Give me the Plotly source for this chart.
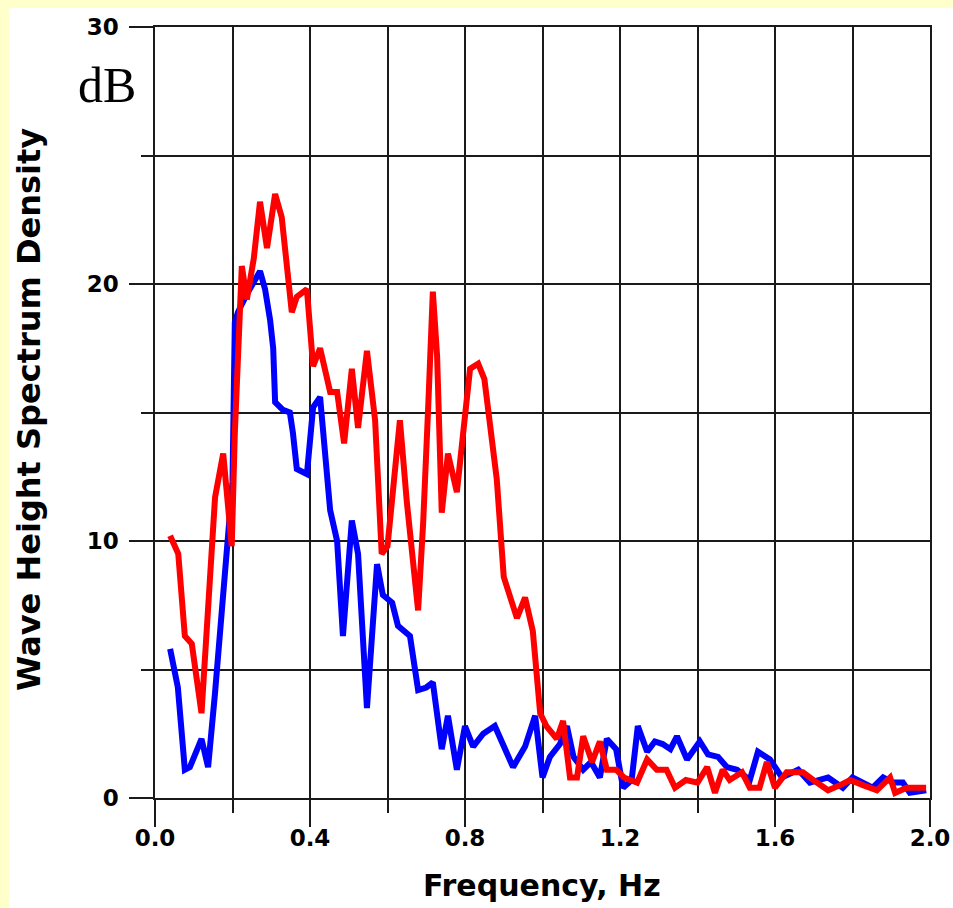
import plotly.graph_objects as go

# Wave height spectrum density (dB) versus frequency, two records
red_freq = [0.039, 0.060, 0.077, 0.095, 0.120, 0.142, 0.155, 0.176, 0.198, 0.206,
            0.215, 0.224, 0.237, 0.255, 0.271, 0.289, 0.310, 0.327, 0.353, 0.366,
            0.392, 0.408, 0.426, 0.452, 0.470, 0.488, 0.508, 0.524, 0.547, 0.568,
            0.585, 0.600, 0.632, 0.650, 0.679, 0.692, 0.705, 0.717, 0.728, 0.740,
            0.756, 0.779, 0.813, 0.834, 0.850, 0.882, 0.900, 0.934, 0.955, 0.975,
            0.994, 1.010, 1.037, 1.053, 1.071, 1.089, 1.105, 1.128, 1.148, 1.166,
            1.190, 1.210, 1.244, 1.270, 1.295, 1.320, 1.342, 1.370, 1.400, 1.425,
            1.445, 1.465, 1.483, 1.515, 1.535, 1.560, 1.579, 1.600, 1.630, 1.672,
            1.708, 1.737, 1.768, 1.794, 1.827, 1.863, 1.897, 1.910, 1.940, 1.990]
red_db = [10.2, 9.5, 6.3, 6.0, 3.3, 8.1, 11.7, 13.4, 9.8, 14.2,
          17.5, 20.7, 19.4, 21.0, 23.2, 21.4, 23.5, 22.6, 18.9, 19.5,
          19.8, 16.8, 17.5, 15.8, 15.8, 13.8, 16.7, 14.4, 17.4, 14.7,
          9.5, 9.8, 14.7, 11.5, 7.3, 10.7, 15.2, 19.7, 17.2, 11.1,
          13.4, 11.9, 16.7, 16.9, 16.3, 12.4, 8.6, 7.0, 7.8, 6.5,
          3.3, 2.8, 2.3, 3.0, 0.8, 0.8, 2.4, 1.4, 2.2, 1.1,
          1.1, 0.8, 0.6, 1.5, 1.1, 1.1, 0.4, 0.7, 0.6, 1.2,
          0.2, 1.1, 0.7, 1.0, 0.4, 0.4, 1.4, 0.4, 1.0, 1.0,
          0.6, 0.3, 0.5, 0.7, 0.5, 0.3, 0.8, 0.2, 0.4, 0.4]

blue_freq = [0.039, 0.059, 0.077, 0.090, 0.120, 0.137, 0.155, 0.172, 0.190, 0.200,
             0.206, 0.214, 0.237, 0.271, 0.284, 0.297, 0.305, 0.310, 0.330, 0.348,
             0.356, 0.366, 0.392, 0.408, 0.426, 0.452, 0.470, 0.485, 0.508, 0.524,
             0.547, 0.573, 0.588, 0.612, 0.627, 0.658, 0.679, 0.700, 0.717, 0.740,
             0.756, 0.779, 0.800, 0.821, 0.847, 0.877, 0.924, 0.955, 0.981, 1.000,
             1.019, 1.045, 1.063, 1.080, 1.105, 1.125, 1.148, 1.166, 1.190, 1.208,
             1.230, 1.246, 1.270, 1.290, 1.310, 1.330, 1.347, 1.373, 1.406, 1.427,
             1.453, 1.476, 1.502, 1.535, 1.556, 1.587, 1.618, 1.660, 1.690, 1.737,
             1.775, 1.800, 1.852, 1.879, 1.905, 1.930, 1.948, 1.990]
blue_db = [5.8, 4.3, 1.1, 1.2, 2.3, 1.2, 4.1, 7.0, 10.0, 12.3,
           18.5, 18.9, 19.6, 20.5, 19.8, 18.6, 17.5, 15.4, 15.1, 15.0,
           14.2, 12.8, 12.6, 15.2, 15.6, 11.2, 10.0, 6.3, 10.8, 9.5,
           3.5, 9.1, 7.9, 7.6, 6.7, 6.3, 4.2, 4.3, 4.5, 1.9,
           3.2, 1.1, 2.8, 2.0, 2.5, 2.8, 1.2, 2.0, 3.2, 0.8,
           1.6, 2.1, 2.8, 1.6, 1.1, 1.4, 0.8, 2.3, 1.9, 0.4,
           0.7, 2.8, 1.8, 2.2, 2.1, 1.9, 2.4, 1.5, 2.2, 1.7,
           1.6, 1.2, 1.1, 0.7, 1.8, 1.5, 0.8, 1.1, 0.6, 0.8,
           0.4, 0.8, 0.4, 0.8, 0.6, 0.6, 0.2, 0.3]

x_ticks = [0.0, 0.4, 0.8, 1.2, 1.6, 2.0]
x_tick_text = ["0.0", "0.4", "0.8", "1.2", "1.6", "2.0"]
y_ticks = [0, 10, 20, 30]

W, H = 953, 908
L, R, T, B = 155, 23, 27, 110
PW, PH = W - L - R, H - T - B

def px(x):
    return (x - L) / PW

def py(y):
    return (H - B - y) / PH

FAMILY = "Verdana, DejaVu Sans, sans-serif"
TICK_FONT = dict(family=FAMILY, size=23, color="black", weight="bold")
GRID = "#1a1a1a"

fig = go.Figure()
fig.add_trace(go.Scatter(x=blue_freq, y=blue_db, mode="lines",
                         line=dict(color="#0000FF", width=6), showlegend=False))
fig.add_trace(go.Scatter(x=red_freq, y=red_db, mode="lines",
                         line=dict(color="#FF0000", width=6), showlegend=False))

fig.update_layout(
    width=W, height=H,
    margin=dict(l=L, r=R, t=T, b=B, pad=0),
    paper_bgcolor="#FFFFCC",
    plot_bgcolor="white",
    showlegend=False,
    shapes=[dict(type="rect", xref="paper", yref="paper",
                 x0=px(9), x1=px(W + 5), y0=py(H + 5), y1=py(8),
                 fillcolor="white", line=dict(width=0), layer="below")],
    annotations=[
        dict(text="dB", xref="paper", yref="paper",
             x=px(107), y=py(85), xanchor="center", yanchor="middle",
             showarrow=False,
             font=dict(family="Liberation Serif, Times New Roman, serif",
                       size=50, color="black")),
        dict(text="Frequency, Hz", xref="paper", yref="paper",
             x=px(542), y=py(885), xanchor="center", yanchor="middle",
             showarrow=False,
             font=dict(family=FAMILY, size=30, color="black", weight="bold")),
        dict(text="Wave Height Spectrum Density", xref="paper", yref="paper",
             x=px(29), y=py(410), xanchor="center", yanchor="middle",
             textangle=-90, showarrow=False,
             font=dict(family=FAMILY, size=32, color="black", weight="bold")),
    ],
)

fig.update_xaxes(
    range=[0, 2.0], tickvals=x_ticks, ticktext=x_tick_text,
    automargin=False,
    showgrid=True, gridcolor=GRID, gridwidth=1.5,
    ticks="outside", ticklen=27, tickwidth=1.5, tickcolor=GRID,
    minor=dict(dtick=0.2, tick0=0, showgrid=True, gridcolor=GRID, gridwidth=1.5,
               ticks="outside", ticklen=13, tickwidth=1.5, tickcolor=GRID),
    showline=True, mirror=True, linecolor=GRID, linewidth=1.5,
    zeroline=False, tickfont=TICK_FONT, ticklabelstandoff=-8,
)
fig.update_yaxes(
    range=[0, 30], tickvals=y_ticks,
    automargin=False,
    showgrid=True, gridcolor=GRID, gridwidth=1.5,
    ticks="outside", ticklen=24, tickwidth=1.5, tickcolor=GRID,
    minor=dict(dtick=5, tick0=0, showgrid=True, gridcolor=GRID, gridwidth=1.5,
               ticks="outside", ticklen=12, tickwidth=1.5, tickcolor=GRID),
    showline=True, mirror=True, linecolor=GRID, linewidth=1.5,
    zeroline=False, tickfont=TICK_FONT, ticklabelstandoff=6,
)

fig.write_html("out.html")
